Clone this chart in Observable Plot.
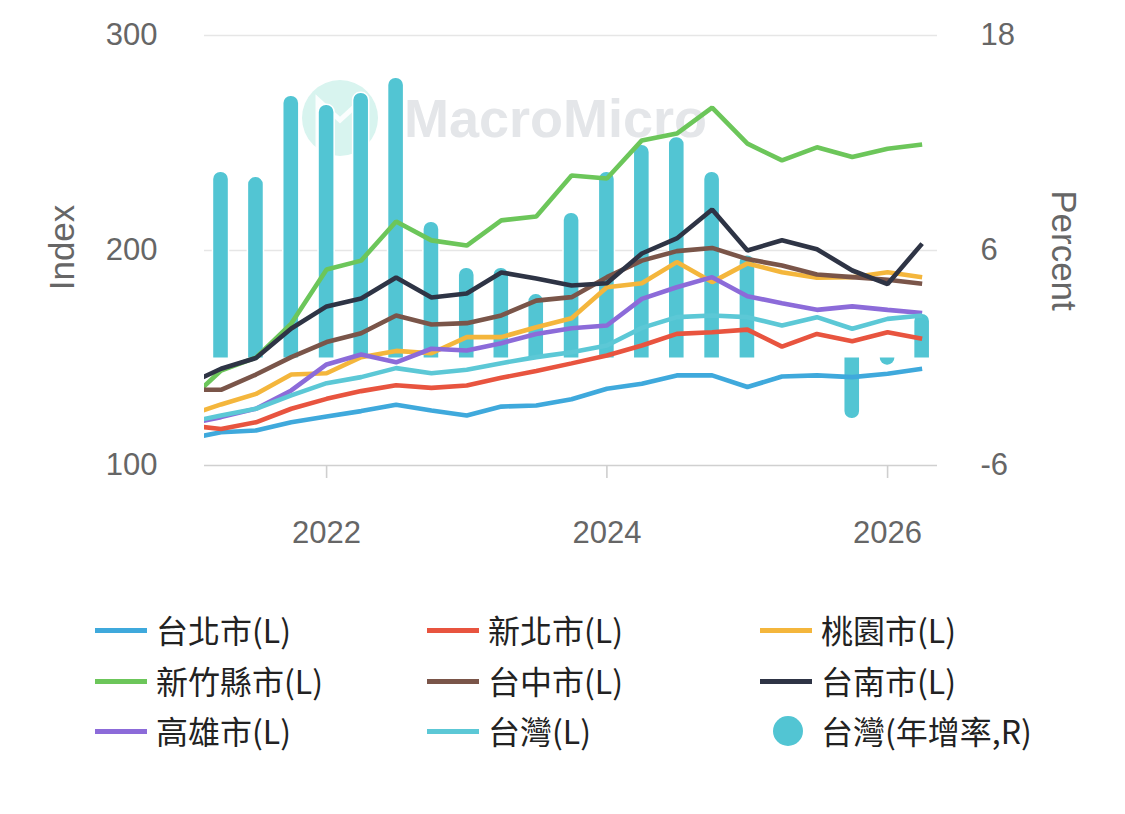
<!DOCTYPE html>
<html>
<head>
<meta charset="utf-8">
<script src="https://cdn.jsdelivr.net/npm/d3@7"></script>
<script src="https://cdn.jsdelivr.net/npm/@observablehq/plot@0.6"></script>
<style>
  html, body { margin: 0; padding: 0; background: #fff; }
  #wrap { position: relative; width: 1125px; height: 814px; overflow: hidden; }
  #chart { position: absolute; left: 0; top: 0; }
  .leg { position: absolute; font-family: "Noto Sans CJK TC", "Noto Sans", sans-serif; font-size: 32px; color: #222; white-space: nowrap; line-height: 1; }
  .swatch { position: absolute; height: 5px; width: 52px; }
  .dotsw { position: absolute; width: 30px; height: 30px; border-radius: 50%; }
</style>
</head>
<body>
<div id="wrap">
  <div id="chart"></div>
  <div id="legend"></div>
</div>
<script>
// ---- Data ----
const quarters = [
  "2021-01-01","2021-04-01","2021-07-01","2021-10-01",
  "2022-01-01","2022-04-01","2022-07-01","2022-10-01",
  "2023-01-01","2023-04-01","2023-07-01","2023-10-01",
  "2024-01-01","2024-04-01","2024-07-01","2024-10-01",
  "2025-01-01","2025-04-01","2025-07-01","2025-10-01",
  "2026-01-01","2026-04-01"
];

const taipei    = [112.3,115.5,116.3,120.1,122.8,125.3,128.3,125.6,123.3,127.4,127.9,130.8,135.7,138.0,141.9,141.9,136.5,141.4,141.9,141.1,142.7,145.0];
const newTaipei = [118.7,117.0,120.1,126.4,131.0,134.6,137.3,136.1,137.2,140.8,143.9,147.5,151.2,155.8,161.2,162.0,163.2,155.3,161.2,157.8,162.0,158.9];
const taoyuan   = [123.0,128.4,133.3,142.3,142.9,150.4,153.3,152.2,159.7,159.7,164.3,168.5,182.9,184.8,194.6,185.3,194.0,189.9,187.3,187.6,189.9,187.6];
const hsinchu   = [129.2,144.2,150.2,166.0,191.2,195.3,213.5,204.7,202.3,214.0,215.8,234.9,233.5,251.2,254.4,266.5,249.7,241.9,248.0,243.5,247.3,249.3];
const taichung  = [135.2,135.2,142.3,150.4,157.4,161.5,169.8,165.6,166.2,169.8,176.7,178.3,187.6,195.3,199.7,201.2,196.0,193.0,188.8,187.6,186.4,184.5];
const tainan    = [137.5,145.0,150.0,163.7,174.0,177.7,187.4,178.1,180.0,189.8,187.0,183.7,184.8,198.6,205.6,219.1,200.0,204.8,200.6,190.7,184.4,203.2];
const kaohsiung = [119.1,122.5,126.4,134.9,147.0,151.6,148.0,154.3,153.5,156.9,161.2,163.8,165.1,177.5,182.9,187.6,178.7,175.5,172.4,174.0,172.4,170.9];
const taiwan    = [119.9,123.3,126.4,132.6,138.3,141.1,145.3,142.9,144.5,147.6,150.4,152.7,155.8,164.0,169.0,169.8,169.0,165.1,169.0,163.6,168.2,169.8];

// Taiwan YoY (%), right axis, 2021-04 .. 2026-04 (null = no bar)
const barQuarters = quarters.slice(1);
const taiwanYoY = [10.35,10.07,14.6,14.09,14.76,15.6,7.56,5.0,5.0,3.54,8.07,10.35,11.86,12.3,10.35,5.7,null,null,-3.38,-0.4,2.43];

const seriesNames  = ["台北市(L)","新北市(L)","桃園市(L)","新竹縣市(L)","台中市(L)","台南市(L)","高雄市(L)","台灣(L)"];
const seriesColors = ["#3fa9dc","#e8543f","#f4b63c","#6cc65a","#7a5549","#2e3445","#8c6bd9","#5cc8d6"];
const seriesValues = [taipei,newTaipei,taoyuan,hsinchu,taichung,tainan,kaohsiung,taiwan];
const barName = "台灣(年增率,R)";
const barColor = "#52c5d3";

const leftTicks = [100, 200, 300];
const rightTickLabels = ["-6", "6", "18"];
const xTickYears = ["2022-01-01", "2024-01-01", "2026-01-01"];

// ---- Build ----
const idxOf = p => 200 + (p - 6) * 100 / 12; // right-axis percent -> left-axis index
const DAY = 864e5;

const lineRows = seriesValues.flatMap((vals, s) =>
  quarters.map((q, i) => ({date: new Date(q), value: vals[i], name: seriesNames[s]})));

const barRows = barQuarters.map((q, i) => ({date: new Date(q), pct: taiwanYoY[i]}))
  .filter(d => d.pct !== null && d.pct !== 0);

const bx1 = d => new Date(+d.date - 19 * DAY);
const bx2 = d => new Date(+d.date + 19 * DAY);

const chart = Plot.plot({
  width: 1125,
  height: 580,
  marginTop: 35,
  marginBottom: 115,
  marginLeft: 204,
  marginRight: 188,
  style: {fontFamily: "'Liberation Sans', Arial, sans-serif", fontSize: "31px", background: "transparent", overflow: "visible"},
  x: {type: "utc", domain: [new Date("2021-02-17"), new Date("2026-05-11")]},
  y: {domain: [100, 300]},
  color: {domain: seriesNames, range: seriesColors},
  marks: [
    Plot.ruleY([300], {stroke: "#e6e6e6", strokeWidth: 1.6}),
    Plot.ruleY([200], {stroke: "#e6e6e6", strokeWidth: 1.6}),
    Plot.ruleY([100], {stroke: "#d0d0d0", strokeWidth: 1.6}),
    Plot.axisY({ticks: leftTicks, tickSize: 0, tickPadding: 47, fill: "#666", fontSize: 31, label: null}),
    Plot.axisY({anchor: "right", ticks: leftTicks, tickSize: 0, tickPadding: 43, fill: "#666", fontSize: 31, label: null,
      tickFormat: d => rightTickLabels[leftTicks.indexOf(d)]}),
    Plot.axisX({ticks: xTickYears.map(s => new Date(s)), tickSize: 13, tickPadding: 42, stroke: "#cfcfcf", strokeWidth: 1.6,
      fill: "#666", fontSize: 31, label: null, tickFormat: d3.utcFormat("%Y")}),
    Plot.text(["Index"], {frameAnchor: "left", textAnchor: "middle", dx: -142, dy: -3, rotate: -90, fill: "#666", fontSize: 35}),
    Plot.text(["Percent"], {frameAnchor: "right", textAnchor: "middle", dx: 126, dy: 0, rotate: 90, fill: "#666", fontSize: 35}),
    // bars with rounded value end and white border
    Plot.rect(barRows, {x1: bx1, x2: bx2, y1: 150, y2: d => idxOf(d.pct), fill: barColor, stroke: "#fff", strokeWidth: 3,
      paintOrder: "stroke", rx1y2: 7, rx2y2: 7}),
    // lines
    Plot.line(lineRows, {x: "date", y: "value", z: "name", stroke: "name", strokeWidth: 4.6,
      strokeLinejoin: "miter", strokeLinecap: "butt", clip: true})
  ]
});

// watermark (decorative), inserted behind the marks
const svg = d3.select(chart);
const wm = svg.insert("g", ":first-child").attr("pointer-events", "none");
wm.append("circle").attr("cx", 340).attr("cy", 118).attr("r", 38).attr("fill", "#d8f4ef");
wm.append("path").attr("d", "M318,150 L318,100 L340,120 L362,100 L362,150")
  .attr("fill", "none").attr("stroke", "#ffffff").attr("stroke-width", 5).attr("opacity", 0.9);
wm.append("text").attr("x", 404).attr("y", 137).attr("text-anchor", "start").text("MacroMicro")
  .attr("font-family", "'Liberation Sans', Arial, sans-serif").attr("font-weight", "bold")
  .attr("font-size", 54).attr("fill", "#e4e6e9");

document.getElementById("chart").appendChild(chart);

// ---- Legend ----
const legend = document.getElementById("legend");
const colX = [95, 427, 760];
const rowY = [630, 681, 731];
const items = seriesNames.map((n, i) => ({name: n, color: seriesColors[i], type: "line"}))
  .concat([{name: barName, color: barColor, type: "dot"}]);
items.forEach((it, i) => {
  const cx = colX[i % 3], cy = rowY[Math.floor(i / 3)];
  const sw = document.createElement("div");
  if (it.type === "line") {
    sw.className = "swatch";
    sw.style.left = cx + "px"; sw.style.top = (cy - 2.5) + "px";
  } else {
    sw.className = "dotsw";
    sw.style.left = (cx + 13) + "px"; sw.style.top = (cy - 15) + "px";
  }
  sw.style.background = it.color;
  legend.appendChild(sw);
  const t = document.createElement("div");
  t.className = "leg";
  t.textContent = it.name;
  t.style.left = (cx + 61) + "px";
  t.style.top = (cy - 17) + "px";
  legend.appendChild(t);
});
</script>
</body>
</html>
